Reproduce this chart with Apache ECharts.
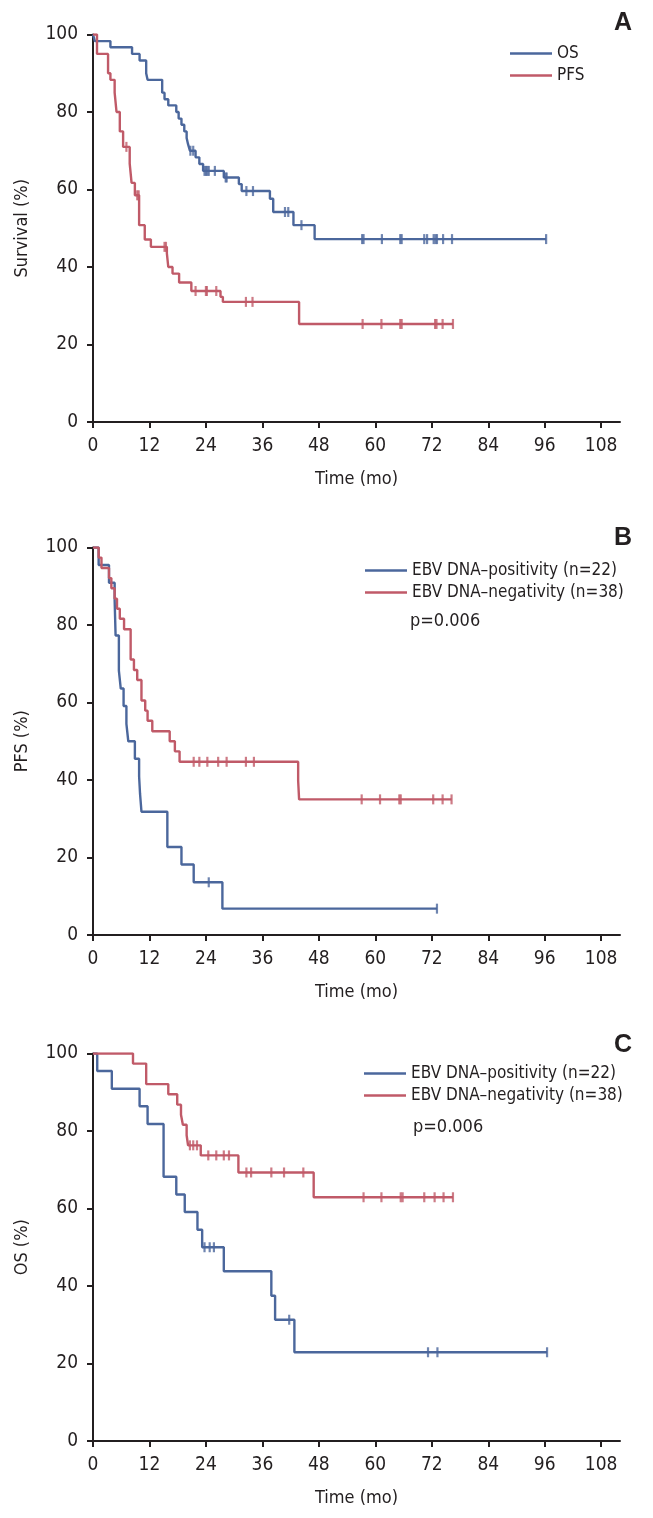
<!DOCTYPE html>
<html><head><meta charset="utf-8">
<script src="https://cdn.jsdelivr.net/npm/echarts@6/dist/echarts.min.js"></script>
<style>html,body{margin:0;padding:0;background:#fff}#c{width:653px;height:1518px}</style>
</head><body><div id="c"></div>
<script>
// ---- tick labels ----
const xTicks = [0, 12, 24, 36, 48, 60, 72, 84, 96, 108];
const yTicks = [0, 20, 40, 60, 80, 100];

// ---- Panel A ----
const aOsTime  = [0, 0.4, 3.7, 8.3, 9.9, 11.3, 11.6, 14.7, 15.2, 16.0, 17.7, 18.2, 18.8, 19.4, 19.9, 20.2, 20.6, 21.8, 22.6, 23.4, 27.8, 31.0, 31.6, 37.6, 38.3, 42.6, 47.1, 96.3];
const aOsSurv  = [100, 98.3, 96.7, 95.0, 93.3, 90.0, 88.3, 85.0, 83.3, 81.7, 80.0, 78.3, 76.7, 75.0, 73.3, 71.7, 70.0, 68.3, 66.6, 64.8, 63.1, 61.4, 59.6, 57.6, 54.2, 50.8, 47.2, 47.2];
const aOsCens  = [20.7, 21.3, 23.7, 24.0, 24.3, 24.6, 25.9, 28.2, 28.4, 32.6, 34.0, 40.8, 41.5, 44.3, 57.2, 57.5, 61.4, 65.3, 65.6, 70.4, 71.0, 72.4, 72.8, 73.1, 74.4, 76.3, 96.3];
const aPfsTime = [0, 0.85, 3.2, 3.7, 4.6, 5.0, 5.7, 6.4, 7.8, 8.2, 8.9, 9.8, 11.0, 12.3, 15.7, 16.0, 16.9, 18.3, 20.9, 27.1, 27.6, 43.8, 76.5];
const aPfsSurv = [100, 95.0, 90.0, 88.3, 85.0, 80.0, 75.0, 71.0, 66.7, 61.7, 58.5, 50.8, 47.1, 45.2, 43.5, 40.0, 38.3, 36.0, 33.8, 32.3, 31.0, 25.3, 25.3];
const aPfsCens = [7.1, 9.4, 9.7, 15.2, 15.5, 21.8, 24.0, 24.2, 26.2, 32.5, 33.9, 57.3, 61.3, 65.3, 65.6, 72.7, 73.0, 74.3, 76.5];

// ---- Panel B (PFS by EBV DNA) ----
const bPosTime = [0, 1.2, 3.4, 4.6, 4.8, 5.5, 5.9, 6.5, 7.1, 7.5, 8.9, 9.8, 10.0, 10.3, 15.8, 18.8, 21.4, 27.5, 73.1];
const bPosSurv = [100, 95.5, 90.9, 86.4, 77.3, 68.2, 63.6, 59.1, 54.5, 50.0, 45.5, 40.9, 36.4, 31.8, 22.7, 18.2, 13.6, 6.8, 6.8];
const bPosCens = [24.6, 73.1];
const bNegTime = [0, 1.2, 1.8, 3.4, 3.9, 4.6, 5.1, 5.7, 6.6, 8.0, 8.7, 9.4, 10.3, 11.1, 11.6, 12.6, 16.3, 17.4, 18.4, 43.6, 43.8, 76.2];
const bNegSurv = [100, 97.4, 94.7, 92.1, 89.5, 86.8, 84.2, 81.6, 78.9, 71.1, 68.4, 65.8, 60.5, 57.9, 55.3, 52.6, 50.0, 47.4, 44.7, 39.8, 35.0, 35.0];
const bNegCens = [21.4, 22.6, 24.3, 26.6, 28.4, 32.5, 34.2, 57.1, 61.0, 65.1, 65.4, 72.3, 74.3, 76.2];

// ---- Panel C (OS by EBV DNA) ----
const cPosTime = [0, 0.9, 4.0, 9.9, 11.6, 15.0, 17.7, 19.5, 22.2, 23.2, 27.8, 37.9, 38.7, 42.8, 96.5];
const cPosSurv = [100, 95.5, 90.9, 86.4, 81.8, 68.2, 63.6, 59.1, 54.5, 50.0, 43.8, 37.5, 31.3, 22.9, 22.9];
const cPosCens = [23.7, 24.8, 25.7, 41.7, 71.2, 73.2, 96.5];
const cNegTime = [0, 8.5, 11.3, 16.0, 17.9, 18.7, 19.1, 19.9, 20.2, 22.9, 30.9, 46.9, 76.5];
const cNegSurv = [100, 97.4, 92.1, 89.5, 86.8, 84.2, 81.6, 78.9, 76.3, 73.7, 69.3, 62.9, 62.9];
const cNegCens = [20.6, 21.3, 22.1, 24.5, 26.2, 27.8, 28.9, 32.6, 33.6, 37.9, 40.6, 44.7, 57.5, 61.3, 65.4, 65.8, 70.4, 72.6, 74.5, 76.5];

// ---- labels ----
const panelLetters = ['A', 'B', 'C'];
const yNames = ['Survival (%)', 'PFS (%)', 'OS (%)'];
const xName = 'Time (mo)';
const namesA = ['OS', 'PFS'];
const namesBC = ['EBV DNA\u2013positivity (n=22)', 'EBV DNA\u2013negativity (n=38)'];
const pText = 'p=0.006';

// ---- style ----
const FONT = "'Liberation Sans Narrow', 'DejaVu Sans Condensed', 'Roboto Condensed', 'Liberation Sans', sans-serif";
const INK = '#231f20';
const BLUE = '#4b679c';
const RED = '#c05a68';
const gridTops = [34.5, 547.5, 1053.5];

function pairs(t, s) { return t.map((v, i) => [v, s[i]]); }
function censPts(c, t, s) {
  return c.map(ct => {
    let v = s[0];
    for (let i = 0; i < t.length; i++) { if (t[i] <= ct) v = s[i]; }
    return [ct, v];
  });
}

const grids = gridTops.map(top => ({ left: 93, top: top, width: 527, height: 387.5 }));
const xAxes = gridTops.map((_, i) => ({
  type: 'value', gridIndex: i, min: 0, max: 112,
  axisLine: { show: true, lineStyle: { color: INK, width: 2 } },
  axisTick: { show: true, length: 6, lineStyle: { color: INK, width: 2 }, customValues: xTicks },
  axisLabel: { customValues: xTicks, color: INK, fontSize: 19, fontFamily: FONT, margin: 15 },
  splitLine: { show: false },
  name: xName, nameLocation: 'middle', nameGap: 48,
  nameTextStyle: { color: INK, fontSize: 18, fontFamily: FONT }
}));
const yAxes = gridTops.map((_, i) => ({
  type: 'value', gridIndex: i, min: 0, max: 100, interval: 20,
  axisLine: { show: true, lineStyle: { color: INK, width: 2 } },
  axisTick: { show: true, length: 6, lineStyle: { color: INK, width: 2 } },
  axisLabel: { color: INK, fontSize: 19, fontFamily: FONT, margin: 15 },
  splitLine: { show: false },
  name: yNames[i], nameLocation: 'middle', nameGap: 62,
  nameTextStyle: { color: INK, fontSize: 18, fontFamily: FONT }
}));

function km(name, idx, t, s, color) {
  return { name: name, type: 'line', step: 'end', xAxisIndex: idx, yAxisIndex: idx,
    data: pairs(t, s), symbol: 'none', lineStyle: { color: color, width: 2.4 }, itemStyle: { color: color },
    silent: true, z: 3 };
}
function cens(name, idx, c, t, s, color) {
  return { name: name + ' censored', type: 'scatter', xAxisIndex: idx, yAxisIndex: idx,
    data: censPts(c, t, s), symbol: 'rect', symbolSize: [2.2, 10], itemStyle: { color: color },
    silent: true, z: 4 };
}

const series = [
  km(namesA[0], 0, aOsTime, aOsSurv, BLUE), cens(namesA[0], 0, aOsCens, aOsTime, aOsSurv, BLUE),
  km(namesA[1], 0, aPfsTime, aPfsSurv, RED), cens(namesA[1], 0, aPfsCens, aPfsTime, aPfsSurv, RED),
  km(namesBC[0], 1, bPosTime, bPosSurv, BLUE), cens(namesBC[0] + 'B', 1, bPosCens, bPosTime, bPosSurv, BLUE),
  km(namesBC[1], 1, bNegTime, bNegSurv, RED), cens(namesBC[1] + 'B', 1, bNegCens, bNegTime, bNegSurv, RED),
  km(namesBC[0], 2, cPosTime, cPosSurv, BLUE), cens(namesBC[0] + 'C', 2, cPosCens, cPosTime, cPosSurv, BLUE),
  km(namesBC[1], 2, cNegTime, cNegSurv, RED), cens(namesBC[1] + 'C', 2, cNegCens, cNegTime, cNegSurv, RED)
];

const legendBase = { orient: 'vertical', icon: 'rect', itemWidth: 42, itemHeight: 2.5, itemGap: 5,
  textStyle: { color: INK, fontSize: 17, fontFamily: FONT, padding: [0, 0, 0, 0] }, selectedMode: false, padding: 0 };
const legends = [
  Object.assign({}, legendBase, { left: 510, top: 45, data: namesA }),
  Object.assign({}, legendBase, { left: 365, top: 562, data: namesBC }),
  Object.assign({}, legendBase, { left: 364, top: 1065, data: namesBC })
];

const titleTops = [11, 526, 1033];
const titles = panelLetters.map((L, i) => ({ text: L, right: 21, top: titleTops[i], padding: 0,
  textStyle: { color: INK, fontSize: 25, fontWeight: 'bold', fontFamily: "'Liberation Sans', Arial, sans-serif" } }));
titles.push({ text: pText, left: 410, top: 612, padding: 0, textStyle: { color: INK, fontSize: 18, fontWeight: 'normal', fontFamily: FONT } });
titles.push({ text: pText, left: 413, top: 1118, padding: 0, textStyle: { color: INK, fontSize: 18, fontWeight: 'normal', fontFamily: FONT } });

const chart = echarts.init(document.getElementById('c'), null, { renderer: 'canvas' });
chart.setOption({
  animation: false,
  backgroundColor: '#fff',
  title: titles,
  legend: legends,
  grid: grids,
  xAxis: xAxes,
  yAxis: yAxes,
  series: series
});
</script>
</body></html>
